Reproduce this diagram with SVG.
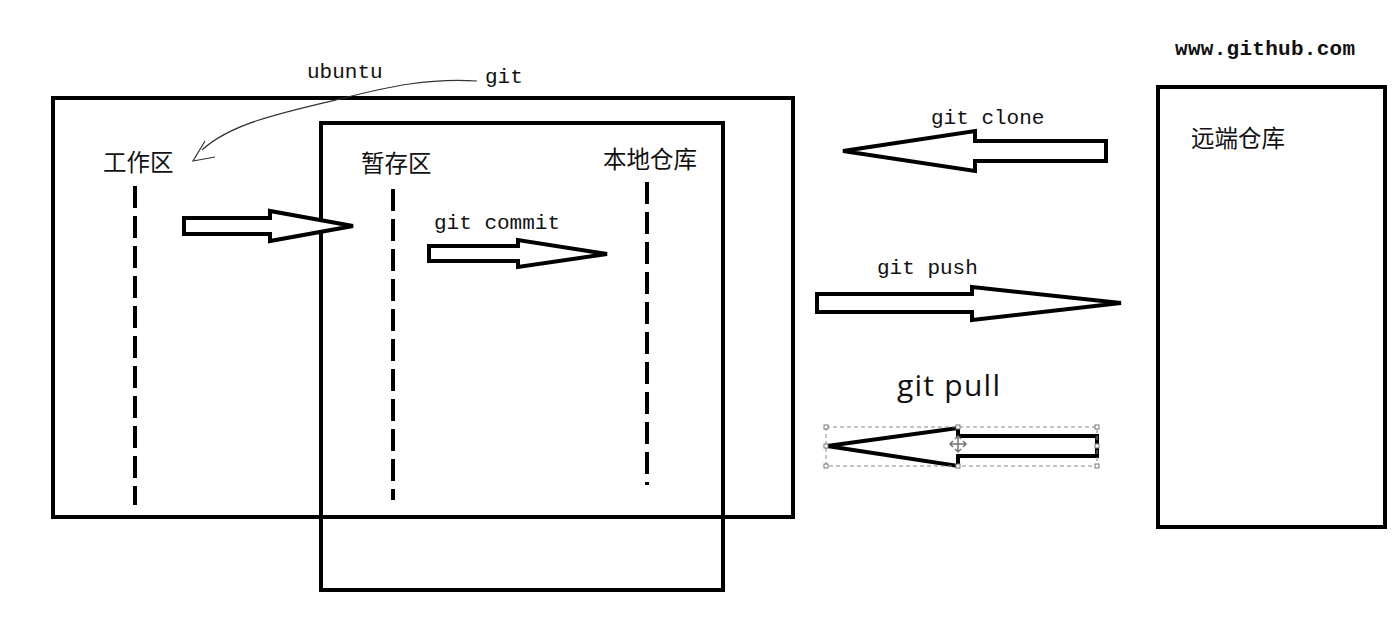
<svg xmlns="http://www.w3.org/2000/svg" width="1400" height="624" viewBox="0 0 1400 624">
<style>
.box{fill:none;stroke:#000;stroke-width:4}
.arr{fill:#fff;stroke:#000;stroke-width:4;stroke-linejoin:miter}
.dash{stroke:#000;stroke-width:4;stroke-dasharray:22 8;fill:none}
.mono{font-family:"Liberation Mono",monospace;font-size:21px;fill:#111}
.cjk{font-family:"Noto Sans CJK SC","Noto Sans",sans-serif;font-size:23.5px;fill:#111}
.sel{fill:none;stroke:#888;stroke-width:1;stroke-dasharray:4 3}
.h{fill:#fff;stroke:#777;stroke-width:1}
</style>
<rect width="1400" height="624" fill="#fff"/>
<g id="ubuntu">
<rect class="box" x="53" y="98" width="740" height="419"/>
<text class="mono" x="307" y="78">ubuntu</text>
</g>
<g id="local">
<rect class="box" x="321" y="123" width="402" height="467"/>
</g>
<g id="remote">
<rect class="box" x="1158" y="87" width="227" height="440"/>
<text class="mono" x="1175" y="55" font-weight="bold" textLength="180">www.github.com</text>
<text class="cjk" x="1191" y="147">远端仓库</text>
</g>
<g id="workspace">
<text class="cjk" x="103" y="171">工作区</text>
<line class="dash" x1="135" y1="186" x2="135" y2="505"/>
</g>
<g id="stage">
<text class="cjk" x="361" y="172">暂存区</text>
<line class="dash" x1="393" y1="189" x2="393" y2="500"/>
</g>
<g id="repo">
<text class="cjk" x="603" y="168">本地仓库</text>
<line class="dash" x1="647" y1="182" x2="647" y2="485"/>
</g>
<g id="connectors">
<text class="mono" x="485" y="83">git</text>
<path d="M477 81 C430 78 390 86 340 99 C280 113 230 124 202 150 M205 141 L193 161 L215 157" fill="none" stroke="#333" stroke-width="1.2"/>
<polygon class="arr" points="184,218 270,218 270,211 353,226 270,241 270,234 184,234"/>
<text class="mono" x="434" y="229">git commit</text>
<polygon class="arr" points="429,246 518,246 518,240 607,254 518,267 518,261 429,261"/>
<text class="mono" x="931" y="124">git clone</text>
<polygon class="arr" points="1106,141 975,141 975,131 843,151 975,171 975,161 1106,161"/>
<text class="mono" x="877" y="274">git push</text>
<polygon class="arr" points="817,294 972,294 972,287 1121,303 972,320 972,312 817,312"/>
<text x="897" y="396" font-family="Open Sans,sans-serif" font-size="30" fill="#111" textLength="103">git pull</text>
<polygon class="arr" points="1097,436 958,436 958,428 827,446 958,466 958,456 1097,456"/>
<rect class="sel" x="826" y="427" width="271" height="39"/>
<rect class="h" x="824" y="425" width="4" height="4"/>
<rect class="h" x="956" y="425" width="4" height="4"/>
<rect class="h" x="1095" y="425" width="4" height="4"/>
<rect class="h" x="824" y="444" width="4" height="4"/>
<rect class="h" x="1095" y="444" width="4" height="4"/>
<rect class="h" x="824" y="464" width="4" height="4"/>
<rect class="h" x="956" y="464" width="4" height="4"/>
<rect class="h" x="1095" y="464" width="4" height="4"/>
<path d="M958 436 L958 452 M950 444 L966 444 M955 439 L958 436 L961 439 M955 449 L958 452 L961 449 M953 441 L950 444 L953 447 M963 441 L966 444 L963 447" fill="none" stroke="#777" stroke-width="1.5"/>
</g>
</svg>
